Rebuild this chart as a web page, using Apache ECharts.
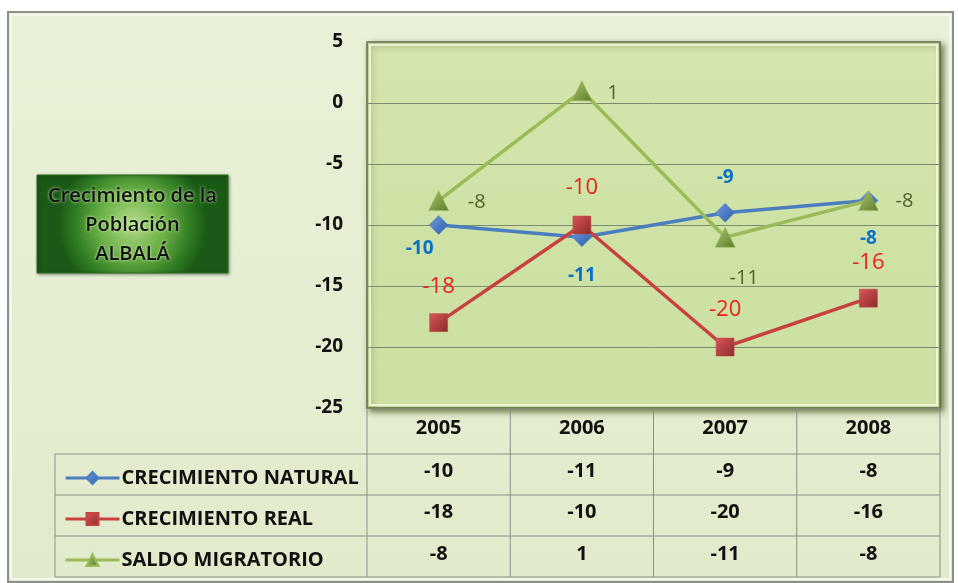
<!DOCTYPE html>
<html>
<head>
<meta charset="utf-8">
<script src="https://cdn.jsdelivr.net/npm/echarts@6/dist/echarts.min.js"></script>
<style>
html,body{margin:0;padding:0;background:#fff;}
#c{width:958px;height:583px;}
</style>
</head>
<body>
<div id="c"></div>
<script>
// ---- data ----
const years = ['2005', '2006', '2007', '2008'];
const seriesNames = ['CRECIMIENTO NATURAL', 'CRECIMIENTO REAL', 'SALDO MIGRATORIO'];
const natural = [-10, -11, -9, -8];
const real = [-18, -10, -20, -16];
const migratorio = [-8, 1, -11, -8];
const yTicks = [5, 0, -5, -10, -15, -20, -25];
const titleLines = ['Crecimiento de la', 'Población', 'ALBALÁ'];

// ---- layout / style ----
const FONT = 'Open Sans';
const PL = 367, PT = 42, PR = 940, PB = 408;
const labelOffsets = [
  [[-19, 24], [0, 38], [0, -35], [0, 38]],
  [[0, -36], [0, -37], [0, -37], [0, -35]],
  [[38, 2], [31, 2], [19, 41], [36, 1]]
];
const colors = ['#4a7ebf', '#c8413f', '#9bbb59'];
const labelStyles = [
  {color: '#0a70c8', fontSize: 19, fontWeight: 'bold'},
  {color: '#e8221c', fontSize: 22, fontWeight: 'normal'},
  {color: '#4f6228', fontSize: 20, fontWeight: 'normal'}
];
const symbols = ['diamond', 'rect', 'triangle'];
const symbolSizes = [[19, 19], 18, [20, 20]];
const symbolFills = [
  new echarts.graphic.LinearGradient(0, 0, 1, 1, [{offset: 0, color: '#6f9be0'}, {offset: 1, color: '#2f5ea8'}]),
  new echarts.graphic.LinearGradient(0, 0, 1, 1, [{offset: 0, color: '#d8565a'}, {offset: 1, color: '#8e2a2c'}]),
  new echarts.graphic.LinearGradient(0, 0, 1, 1, [{offset: 0, color: '#a9c86a'}, {offset: 1, color: '#5e7a2c'}])
];
const allValues = [natural, real, migratorio];

const series = allValues.map((vals, si) => ({
  name: seriesNames[si],
  type: 'line',
  symbol: symbols[si],
  symbolSize: symbolSizes[si],
  z: 3 + si,
  lineStyle: {color: colors[si], width: 3.5},
  itemStyle: {color: symbolFills[si], borderColor: colors[si], borderWidth: 0.5},
  data: vals.map((v, i) => ({
    value: v,
    label: {
      show: true,
      position: 'inside',
      offset: labelOffsets[si][i],
      fontFamily: FONT,
      color: labelStyles[si].color,
      fontSize: labelStyles[si].fontSize,
      fontWeight: labelStyles[si].fontWeight,
      textBorderWidth: 0,
      formatter: '{c}'
    }
  }))
}));

// table value rows as extra category axes
const rowOffsets = [43, 84, 126];
const tableAxes = allValues.map((vals, si) => ({
  type: 'category',
  gridIndex: 0,
  position: 'bottom',
  offset: rowOffsets[si],
  data: vals.map(String),
  axisLine: {show: false},
  axisTick: {show: false},
  axisLabel: {margin: 10, fontFamily: FONT, fontSize: 20, fontWeight: 'bold', color: '#111'}
}));

const tableColor = '#8a8f86';
const hLines = [454, 495, 536, 577];
const vLines = [0, 1, 2, 3, 4].map(i => PL + i * (PR - PL) / 4);

const graphic = [
  // outer frame
  {type: 'rect', z: -10, silent: true,
   shape: {x: 8, y: 12, width: 945, height: 570},
   style: {fill: new echarts.graphic.LinearGradient(0, 0, 0, 1, [{offset: 0, color: '#e9f1d8'}, {offset: 1, color: '#e1ebcb'}]),
           stroke: '#8e8e8e', lineWidth: 2}},
  {type: 'rect', z: -9, silent: true,
   shape: {x: 11, y: 15, width: 939, height: 564},
   style: {fill: 'none', stroke: '#f4f8ea', lineWidth: 2}},
  // plot area background
  {type: 'rect', z: -8, silent: true,
   shape: {x: PL, y: PT, width: PR - PL, height: PB - PT},
   style: {fill: new echarts.graphic.LinearGradient(0, 0, 0, 1, [{offset: 0, color: '#d4e5ad'}, {offset: 0.5, color: '#cfe2a6'}, {offset: 1, color: '#cde0a3'}]),
           stroke: '#5f6e43', lineWidth: 1.5,
           shadowBlur: 6, shadowOffsetX: 3, shadowOffsetY: 3, shadowColor: 'rgba(50,70,20,0.7)'}},
  {type: 'rect', z: -7, silent: true,
   shape: {x: PL + 3, y: PT + 3, width: PR - PL - 6, height: PB - PT - 6},
   style: {fill: 'none', stroke: 'rgba(245,250,225,0.8)', lineWidth: 2}},
  // title box
  {type: 'rect', z: 5, silent: true,
   shape: {x: 37, y: 175, width: 191, height: 98},
   style: {fill: new echarts.graphic.RadialGradient(0.5, 0.5, 0.75, [{offset: 0, color: '#b4dc8a'}, {offset: 0.45, color: '#6bb046'}, {offset: 0.8, color: '#2e7a22'}, {offset: 1, color: '#1b5a16'}]),
           stroke: '#2f6a22', lineWidth: 1,
           shadowBlur: 3, shadowOffsetX: 1, shadowOffsetY: 1, shadowColor: 'rgba(0,0,0,0.4)'}},
  {type: 'text', z: 6, silent: true,
   style: {x: 132.5, y: 225, text: titleLines.join('\n'), align: 'center', verticalAlign: 'middle',
           font: '600 20px ' + FONT, fill: '#111', lineHeight: 29,
           textShadowColor: 'rgba(230,255,200,0.9)', textShadowBlur: 3}}
].concat(hLines.map(y => ({
  type: 'line', z: 1, silent: true,
  shape: {x1: 55, y1: y, x2: PR, y2: y},
  style: {stroke: tableColor, lineWidth: 1}
}))).concat(vLines.map(x => ({
  type: 'line', z: 1, silent: true,
  shape: {x1: x, y1: PB, x2: x, y2: 577},
  style: {stroke: tableColor, lineWidth: 1}
}))).concat([
  {type: 'line', z: 1, silent: true, shape: {x1: 55, y1: 454, x2: 55, y2: 577}, style: {stroke: tableColor, lineWidth: 1}}
]);

const chart = echarts.init(document.getElementById('c'), null, {renderer: 'canvas'});
chart.setOption({
  backgroundColor: '#ffffff',
  animation: false,
  textStyle: {fontFamily: FONT},
  graphic: graphic,
  grid: {left: PL, top: PT, right: 958 - PR, bottom: 583 - PB, containLabel: false},
  legend: {
    orient: 'vertical',
    left: 59,
    top: 461,
    itemWidth: 54,
    itemHeight: 15,
    itemGap: 17,
    selectedMode: false,
    data: seriesNames,
    lineStyle: {width: 3},
    textStyle: {fontFamily: FONT, fontSize: 20, fontWeight: 'bold', color: '#111', lineHeight: 24, padding: [0, 0, 0, -3]}
  },
  xAxis: [{
    type: 'category',
    data: years,
    boundaryGap: true,
    position: 'bottom',
    axisLine: {show: false},
    axisTick: {show: false},
    axisLabel: {margin: 10, fontFamily: FONT, fontSize: 20, fontWeight: 'bold', color: '#111'},
    splitLine: {show: false}
  }].concat(tableAxes),
  yAxis: {
    type: 'value',
    min: -25,
    max: 5,
    interval: 5,
    axisLine: {show: false},
    axisTick: {show: false},
    axisLabel: {margin: 24, fontFamily: FONT, fontSize: 19, fontWeight: 'bold', color: '#111'},
    splitLine: {show: true, lineStyle: {color: '#7f8a72', width: 1}}
  },
  series: series
});
</script>
</body>
</html>
